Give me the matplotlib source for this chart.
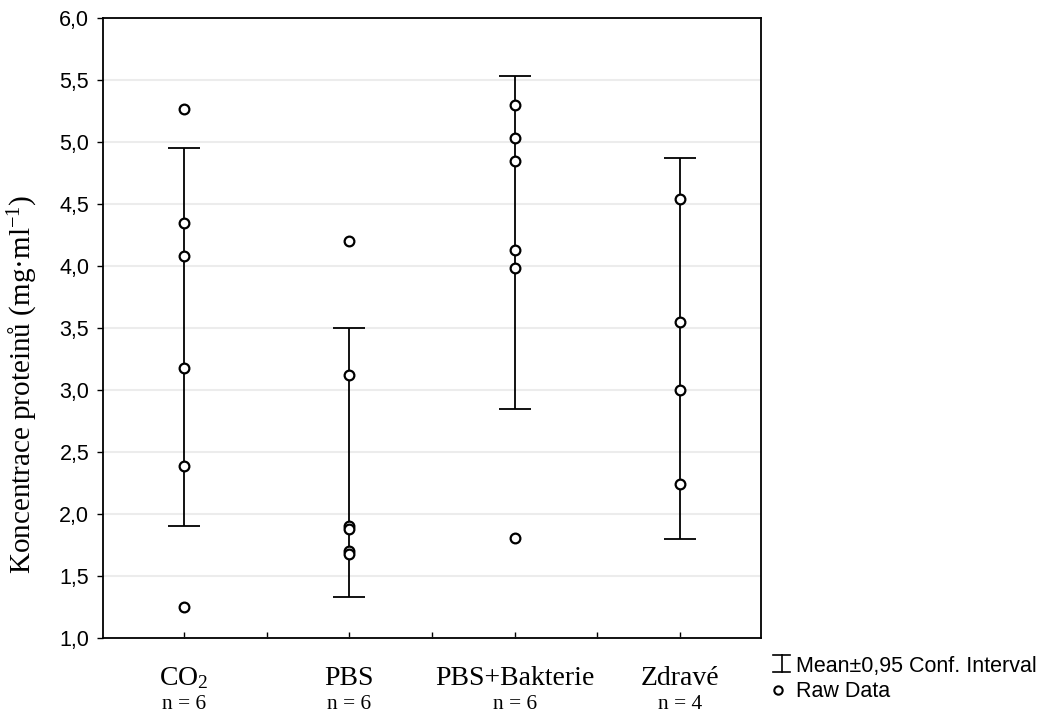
import matplotlib

matplotlib.use("Agg")
import matplotlib.pyplot as plt
from matplotlib.lines import Line2D
from matplotlib.ticker import FuncFormatter

# raw data
groups = ["CO$_2$", "PBS", "PBS+Bakterie", "Zdravé"]
n_labels = ["n = 6", "n = 6", "n = 6", "n = 4"]
raw_co2 = [5.27, 4.35, 4.08, 3.18, 2.39, 1.25]
raw_pbs = [4.20, 3.12, 1.90, 1.88, 1.70, 1.68]
raw_pbs_bakt = [5.30, 5.03, 4.85, 4.13, 3.98, 1.81]
raw_zdrave = [4.54, 3.55, 3.00, 2.24]
ci_low = [1.90, 1.33, 2.85, 1.80]
ci_high = [4.95, 3.50, 5.53, 4.87]

raw = [raw_co2, raw_pbs, raw_pbs_bakt, raw_zdrave]

plt.rcParams["font.family"] = ["Liberation Sans", "DejaVu Sans"]
plt.rcParams["mathtext.fontset"] = "custom"
plt.rcParams["mathtext.rm"] = "Liberation Serif"
plt.rcParams["mathtext.it"] = "Liberation Serif:italic"
serif = ["Liberation Serif", "DejaVu Serif"]

fig = plt.figure(figsize=(10.43, 7.15), dpi=100)
ax = fig.add_axes([0.0988, 0.1077, 0.631, 0.8671])

for i, (vals, lo, hi) in enumerate(zip(raw, ci_low, ci_high)):
    mid = (lo + hi) / 2
    ax.errorbar([i], [mid], yerr=[[mid - lo], [hi - mid]], fmt="none",
                ecolor="black", elinewidth=1.3, capsize=11.5, capthick=1.3, zorder=3)
    ax.plot([i] * len(vals), vals, "o", mfc="white", mec="black",
            ms=7, mew=1.6, zorder=4)

ax.set_xlim(-0.49, 3.49)
ax.set_ylim(1.0, 6.0)
ax.set_yticks([1.0 + 0.5 * k for k in range(11)])
ax.yaxis.set_major_formatter(FuncFormatter(lambda v, p: f"{v:.1f}".replace(".", ",")))
ax.set_xticks([0, 0.5, 1, 1.5, 2, 2.5, 3])
ax.set_xticklabels([])
ax.tick_params(axis="x", direction="in", length=4, width=1)
ax.tick_params(axis="y", direction="out", length=4, width=1, labelsize=15.5, pad=6)
ax.grid(axis="y", color="#ececec", linewidth=1.5, zorder=0)
ax.set_axisbelow(True)
for s in ax.spines.values():
    s.set_linewidth(1.3)

trans = ax.get_xaxis_transform()
for i, (g, n) in enumerate(zip(groups, n_labels)):
    ax.text(i, -0.0758, g, transform=trans, ha="center", va="baseline",
            fontsize=20, family=serif)
    ax.text(i, -0.1145, n, transform=trans, ha="center", va="baseline",
            fontsize=15.5, family=serif)

fig.text(0.022, 0.462, "Koncentrace proteinů (mg·ml$^{-1}$)", rotation=90,
         ha="center", va="center", fontsize=21, family=serif)

# legend drawn by hand
W, H = 1043, 715
x0, x1 = 773 / W, 790 / W
ytop, ybot = 1 - 655 / H, 1 - 672 / H
xm = (x0 + x1) / 2
for xs, ys in [((xm, xm), (ytop, ybot)), ((x0, x1), (ytop, ytop)), ((x0, x1), (ybot, ybot))]:
    fig.add_artist(Line2D(xs, ys, color="black", linewidth=1.2))
fig.add_artist(Line2D([778 / W], [1 - 690 / H], marker="o", mfc="white",
                      mec="black", ms=6, mew=1.5))
fig.text(796 / W, 1 - 672 / H, "Mean±0,95 Conf. Interval", fontsize=15.5,
         ha="left", va="baseline")
fig.text(796 / W, 1 - 697 / H, "Raw Data", fontsize=15.5, ha="left", va="baseline")

fig.savefig("out.png", dpi=100)
